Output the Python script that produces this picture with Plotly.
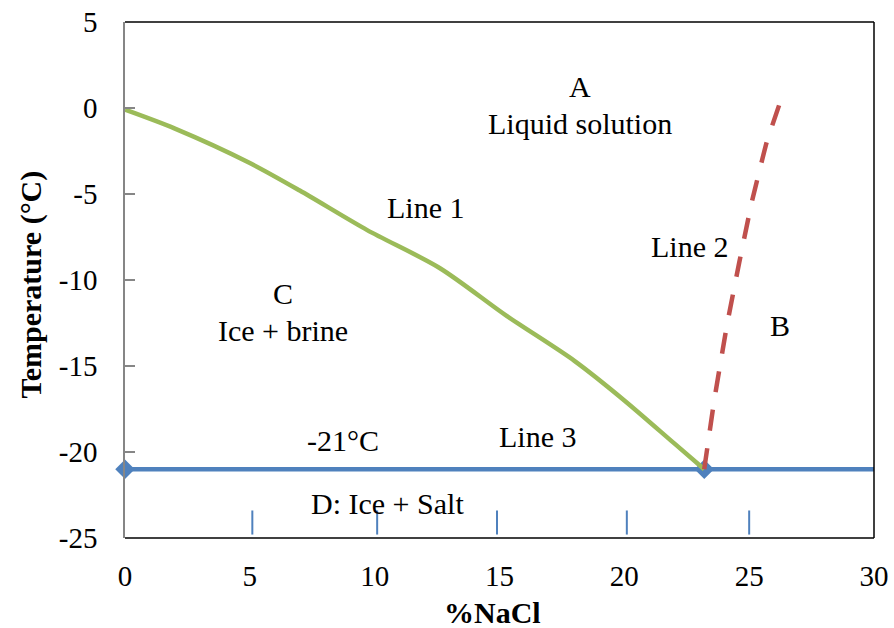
import plotly.graph_objects as go

# Line 1: freezing curve of brine (ice + brine boundary)
line1_x = [0, 2.0, 5.0, 7.0, 9.7, 12.6, 15.3, 18.0, 20.0, 22.0, 23.2]
line1_y = [-0.1, -1.2, -3.2, -4.8, -7.1, -9.3, -12.1, -14.7, -17.0, -19.5, -21.0]

# Line 2: salt solubility boundary
line2_x = [23.2, 23.6, 24.1, 24.6, 25.1, 25.7, 26.35]
line2_y = [-21.0, -17.0, -12.7, -9.0, -5.5, -2.0, 0.8]

# Line 3: eutectic temperature
line3_x = [0, 30]
line3_y = [-21, -21]
eutectic_x = [0, 23.2]
eutectic_y = [-21, -21]

# short blue reference marks above the x axis
mark_x = [5.1, 10.1, 14.9, 20.1, 25.0]
mark_top = -23.4
mark_bottom = -24.8

x_ticks = [0, 5, 10, 15, 20, 25, 30]
y_ticks = [5, 0, -5, -10, -15, -20, -25]

# region and line labels: (text, x, y)
labels = [
    ("A", 18.22, 1.23),
    ("Liquid solution", 18.22, -0.92),
    ("Line 1", 12.02, -5.81),
    ("Line 2", 22.62, -8.08),
    ("C", 6.34, -10.76),
    ("Ice + brine", 6.34, -12.92),
    ("B", 26.22, -12.63),
    ("-21°C", 8.74, -19.32),
    ("Line 3", 16.54, -19.09),
    ("D: Ice + Salt", 10.5, -22.99),
]

BLUE = "#4F81BD"
GREEN = "#9BBB59"
RED = "#C0504D"
FONT = "Liberation Serif"

fig = go.Figure()

fig.add_trace(go.Scatter(x=line3_x, y=line3_y, mode="lines",
                         line=dict(color=BLUE, width=4.5), hoverinfo="skip"))
fig.add_trace(go.Scatter(x=eutectic_x, y=eutectic_y, mode="markers",
                         marker=dict(symbol="diamond", size=15, color=BLUE),
                         cliponaxis=False, hoverinfo="skip"))

mx, my = [], []
for v in mark_x:
    mx += [v, v, None]
    my += [mark_top, mark_bottom, None]
fig.add_trace(go.Scatter(x=mx, y=my, mode="lines",
                         line=dict(color=BLUE, width=2), hoverinfo="skip"))

fig.add_trace(go.Scatter(x=line1_x, y=line1_y, mode="lines",
                         line=dict(color=GREEN, width=4.5, shape="spline", smoothing=0.8),
                         hoverinfo="skip"))
fig.add_trace(go.Scatter(x=line2_x, y=line2_y, mode="lines",
                         line=dict(color=RED, width=4.5, dash="21px,18px",
                                   shape="spline", smoothing=0.3),
                         hoverinfo="skip"))

for text, lx, ly in labels:
    fig.add_annotation(x=lx, y=ly, text=text, showarrow=False,
                       font=dict(size=30),
                       xanchor="center", yanchor="middle")

# axis titles
fig.add_annotation(xref="paper", yref="paper", x=0.491, y=-0.145,
                   text="<b>%NaCl</b>", showarrow=False,
                   font=dict(size=30),
                   xanchor="center", yanchor="middle")
fig.add_annotation(xref="paper", yref="paper", x=-0.125, y=0.492,
                   text="<b>Temperature (°C)</b>", showarrow=False, textangle=-90,
                   font=dict(size=30),
                   xanchor="center", yanchor="middle")

# black frame on top, right and bottom
fig.add_shape(type="line", xref="paper", yref="paper", x0=0, x1=1, y0=1, y1=1,
              line=dict(color="black", width=1.5))
fig.add_shape(type="line", xref="paper", yref="paper", x0=1, x1=1, y0=0, y1=1,
              line=dict(color="black", width=1.5))
fig.add_shape(type="line", xref="paper", yref="paper", x0=0, x1=1, y0=0, y1=0,
              line=dict(color="black", width=1.5))

fig.update_layout(
    template="none",
    width=894, height=628,
    margin=dict(l=124.5, r=20, t=22, b=90),
    paper_bgcolor="white", plot_bgcolor="white",
    showlegend=False,
    font_family=FONT,
    font_color="black",
    font_size=29,
)
fig.update_xaxes(range=[0, 30], tickvals=x_ticks, ticktext=[str(v) for v in x_ticks],
                 showgrid=False, zeroline=False, showline=False, automargin=False,
                 ticks="", ticklabelstandoff=18)
fig.update_yaxes(range=[-25, 5], tickvals=y_ticks, ticktext=[str(v) for v in y_ticks],
                 showgrid=False, zeroline=False, showline=True, automargin=False,
                 linecolor="#868686", linewidth=1.5,
                 ticks="inside", ticklen=10, tickcolor="#868686", tickwidth=1.5,
                 ticklabelstandoff=20)

fig.write_html("out.html")
